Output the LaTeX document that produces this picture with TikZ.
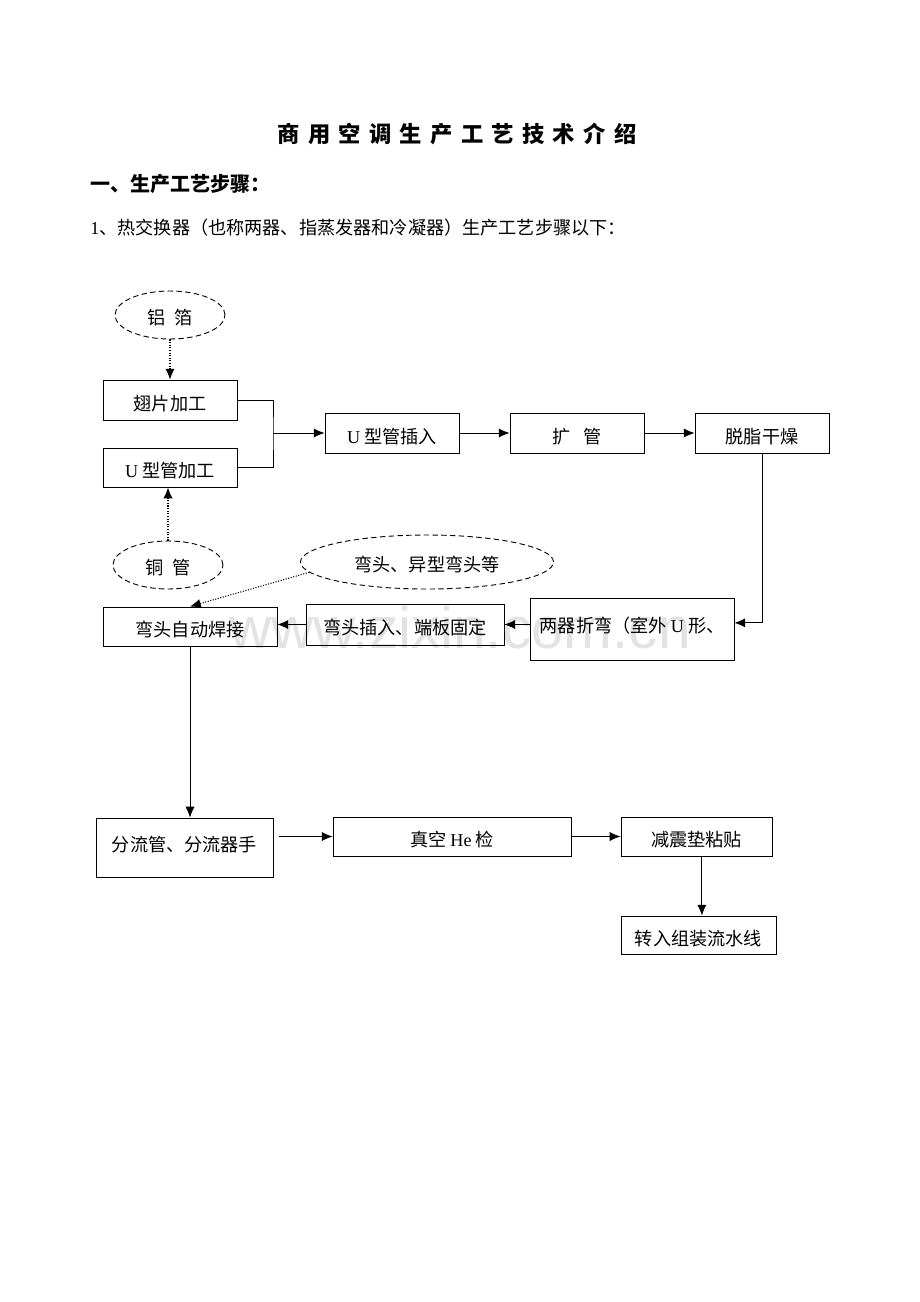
\documentclass[tikz,border=0pt]{standalone}
\usepackage{fontspec}
\setmainfont{Noto Sans CJK SC}
\newfontfamily\latin{Liberation Serif}
\newfontfamily\wmfont{Liberation Sans}
\usetikzlibrary{shapes.geometric, arrows.meta, positioning}
\newcommand\tsp{\hspace{5.4pt}}

\begin{document}
\begin{tikzpicture}[x=0.65pt, y=-0.65pt, font=\fontsize{11.8pt}{14pt}\selectfont]
        % ================= styles =================
        \tikzset{
            % process box
            procbox/.style={draw=black, line width=0.6pt, rectangle, inner sep=0pt,
                text height=1.3em, text depth=0pt},
            % box whose text sits higher
            highbox/.style={procbox, text height=0.5em},
            % dashed material ellipse
            stock/.style={draw=black, line width=0.6pt, ellipse, dash pattern=on 3.5pt off 2.2pt,
                inner sep=0pt, text height=1.2em, text depth=0pt},
            % connectors
            flow/.style={line width=0.6pt, black, -{Latex[length=7pt, width=6pt]}},
            plain/.style={line width=0.6pt, black},
            feed/.style={line width=0.7pt, black, densely dotted, -{Latex[length=7pt, width=6pt]}}
        }

        \useasboundingbox (0,0) rectangle (920,1302);

        % watermark
        \node[text=gray!22, font=\wmfont\fontsize{38pt}{40pt}\selectfont] (mark) at (460,628) {www.zixin.com.cn};

        % ================= 1. headings =================
        \node[font=\fontsize{14.5pt}{16pt}\selectfont\bfseries] (title) at (457,134)
            {商\tsp 用\tsp 空\tsp 调\tsp 生\tsp 产\tsp 工\tsp 艺\tsp 技\tsp 术\tsp 介\tsp 绍};
        \node[anchor=west, inner sep=0pt, font=\fontsize{13pt}{15pt}\selectfont\bfseries] (sect) at (90,184)
            {一、生产工艺步骤：};
        \node[anchor=west, inner sep=0pt] (intro) at (90,228)
            {{\latin 1}、热交换器（也称两器、指蒸发器和冷凝器）生产工艺步骤以下：};

        % ================= 2. materials =================
        \node[stock, minimum width=71.5pt, minimum height=31.2pt] (foil) at (170,315) {铝\hspace{0.5em}箔};
        \node[stock, minimum width=71.5pt, minimum height=31.2pt] (copper) at (168,565) {铜\hspace{0.5em}管};
        \node[stock, minimum width=164.5pt, minimum height=35.1pt] (elbows) at (427,562) {弯头、异型弯头等};

        % ================= 3. process boxes =================
        \node[procbox, minimum width=87.1pt, minimum height=26pt] (fin) at (170,400) {翅片加工};
        \node[procbox, minimum width=87.1pt, minimum height=25.4pt] (utube) at (170,467.5) {{\latin U} 型管加工};
        \node[procbox, minimum width=87.1pt, minimum height=26pt] (insert) at (392,433) {{\latin U} 型管插入};
        \node[procbox, minimum width=87.1pt, minimum height=26pt] (expand) at (577,433) {扩\hspace{0.7em}管};
        \node[procbox, minimum width=87.1pt, minimum height=26pt] (degrease) at (762,433) {脱脂干燥};
        \node[highbox, minimum width=132.6pt, minimum height=40.3pt] (bend) at (632,629) {两器折弯（室外 {\latin U} 形、};
        \node[procbox, minimum width=128.7pt, minimum height=26.7pt] (elbowin) at (405,624.5) {弯头插入、端板固定};
        \node[procbox, minimum width=113.1pt, minimum height=25.4pt] (weld) at (190,626.5) {弯头自动焊接};
        \node[highbox, minimum width=115pt, minimum height=38.4pt] (distr) at (184.5,847.5) {分流管、分流器手};
        \node[procbox, minimum width=154.7pt, minimum height=25.4pt] (vacuum) at (452,836.5) {真空 {\latin He} 检};
        \node[procbox, minimum width=98.2pt, minimum height=25.4pt] (damper) at (696.5,836.5) {减震垫粘贴};
        \node[procbox, minimum width=100.8pt, minimum height=24.7pt] (assembly) at (698.5,935) {转入组装流水线};

        % ================= 4. connectors =================
        \draw[feed] (foil.south) -- (fin.north);
        \draw[feed] (copper.north) -- (copper.north |- utube.south);
        \coordinate (join) at (273,433);
        \draw[plain] (fin.east) -| (join) |- (utube.east);
        \draw[flow] (join) -- (insert.west);
        \draw[flow] (insert.east) -- (expand.west);
        \draw[flow] (expand.east) -- (degrease.west);
        \draw[flow] (degrease.south) |- ([yshift=4pt]bend.east);
        \draw[flow] (bend.west |- elbowin.east) -- (elbowin.east);
        \draw[flow] (elbowin.west) -- (elbowin.west -| weld.east);
        \draw[feed] (elbows.185) -- (weld.north);
        \draw[flow] (weld.south) -- (weld.south |- distr.north);
        \draw[flow] ([xshift=3.5pt]distr.east |- vacuum.west) -- (vacuum.west);
        \draw[flow] (vacuum.east) -- (damper.west);
        \draw[flow] ([xshift=3.5pt]damper.south) -- ([xshift=3.5pt]damper.south |- assembly.north);

    \end{tikzpicture}
\end{document}
